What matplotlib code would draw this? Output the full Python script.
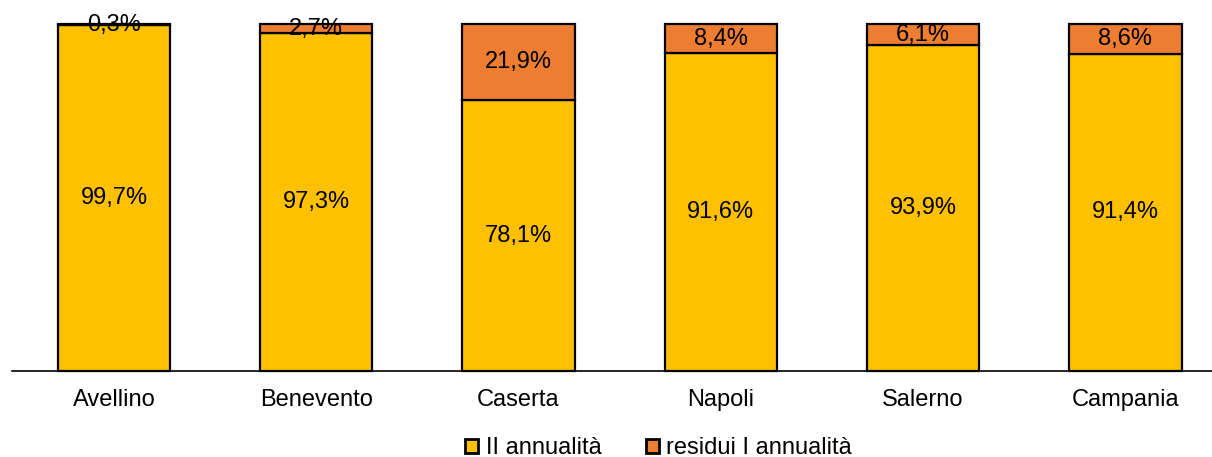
import numpy as np
import matplotlib.pyplot as plt
from matplotlib.patches import Patch

plt.rcParams['font.family'] = ['Liberation Sans', 'DejaVu Sans']

provinces = ["Avellino", "Benevento", "Caserta", "Napoli", "Salerno", "Campania"]
ii_annualita = [99.7, 97.3, 78.1, 91.6, 93.9, 91.4]
residui = [0.3, 2.7, 21.9, 8.4, 6.1, 8.6]

yellow = "#FFC000"
orange = "#ED7D31"
fs = 17

fig = plt.figure(figsize=(12.12, 4.57), dpi=100)
ax = fig.add_axes([12 / 1212, 0.188, 1200 / 1212, 0.7595])

x = np.arange(len(provinces))
w = 0.555
ax.bar(x, ii_annualita, w, color=yellow, edgecolor="black", linewidth=1.6, clip_on=False)
ax.bar(x, residui, w, bottom=ii_annualita, color=orange, edgecolor="black",
       linewidth=1.6, clip_on=False)

for i in range(len(x)):
    ax.text(x[i], ii_annualita[i] / 2, f"{ii_annualita[i]:.1f}%".replace(".", ","),
            ha="center", va="center", fontsize=fs)
    ax.text(x[i], ii_annualita[i] + residui[i] / 2, f"{residui[i]:.1f}%".replace(".", ","),
            ha="center", va="center", fontsize=fs)

for s in ["top", "right", "left"]:
    ax.spines[s].set_visible(False)
ax.spines["bottom"].set_linewidth(1.2)
ax.spines["bottom"].set_position(("data", 0))

ax.set_xlim(-0.504, 5.428)
ax.set_ylim(0, 100)
ax.set_xticks(x)
ax.set_xticklabels(provinces, fontsize=fs)
ax.tick_params(axis="x", length=0, pad=13)
ax.set_yticks([])

handles = [Patch(facecolor=yellow, edgecolor="black", linewidth=2),
           Patch(facecolor=orange, edgecolor="black", linewidth=2)]
fig.legend(handles, ["II annualità", "residui I annualità"], loc="center",
           bbox_to_anchor=(0.5435, 0.019), ncol=2, frameon=False, fontsize=fs,
           handlelength=0.55, handleheight=0.55, handletextpad=0.3, columnspacing=1.9,
           borderpad=0, borderaxespad=0)

fig.savefig("out.png", dpi=100)
